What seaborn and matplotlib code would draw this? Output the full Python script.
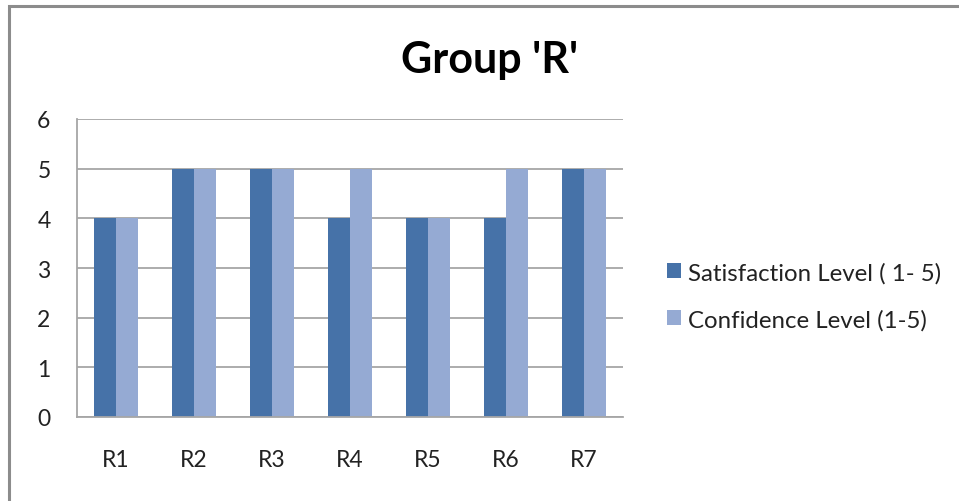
import matplotlib
matplotlib.use("Agg")
import matplotlib.pyplot as plt
from matplotlib.patches import Rectangle
import seaborn as sns
import pandas as pd

categories = ["R1", "R2", "R3", "R4", "R5", "R6", "R7"]
satisfaction = [4, 5, 5, 4, 4, 4, 5]
confidence = [4, 5, 5, 5, 4, 5, 5]
series_names = ["Satisfaction Level ( 1- 5)", "Confidence Level (1-5)"]
colors = ["#4672A8", "#95AAD3"]
title = "Group 'R'"

df = pd.DataFrame({
    "cat": categories * 2,
    "val": satisfaction + confidence,
    "series": [series_names[0]] * len(categories) + [series_names[1]] * len(categories),
})

sns.set_style("white")
plt.rcParams["font.family"] = ["Lato", "DejaVu Sans"]

W, H = 959, 502
fig = plt.figure(figsize=(W / 100, H / 100), dpi=100)
fig.patch.set_facecolor("white")
# outer chart border (left and top visible)
fig.patches.append(Rectangle((9 / W, -0.1), 1.2, 1 - 7 / H + 0.1, transform=fig.transFigure,
                             fill=False, edgecolor="#8C8C8C", linewidth=2.2))

ax = fig.add_axes([77 / W, (H - 418) / H, 546 / W, 298 / H])
sns.barplot(data=df, x="cat", y="val", hue="series", palette=colors, width=0.57,
            saturation=1, ax=ax, edgecolor="none", linewidth=0)
ax.set_ylim(0, 6)
ax.set_yticks(range(0, 7))
ax.set_xlabel("")
ax.set_ylabel("")
ax.grid(axis="y", color="#A6A6A6", linewidth=1.3)
ax.set_axisbelow(True)
for s in ["top", "right"]:
    ax.spines[s].set_visible(False)
for s in ["left", "bottom"]:
    ax.spines[s].set_color("#A6A6A6")
    ax.spines[s].set_linewidth(1.3)
ax.tick_params(axis="y", length=0, pad=19, labelsize=16.5, labelcolor="#222222")
ax.tick_params(axis="x", length=0, pad=23, labelsize=16.5, labelcolor="#222222")

ax.get_legend().remove()
handles = [Rectangle((0, 0), 1, 1, facecolor=c, edgecolor="none") for c in colors]
fig.legend(handles, series_names, loc="center left", bbox_to_anchor=(645 / W, 1 - 297 / H),
           frameon=False, fontsize=17.3, handlelength=0.58, handleheight=0.58,
           handletextpad=0.33, labelspacing=1.05, labelcolor="#222222")

fig.text(490 / W, 1 - 60 / H, title, ha="center", va="center", fontsize=31, fontweight="bold",
         color="black")

fig.savefig("out.png", dpi=100)
